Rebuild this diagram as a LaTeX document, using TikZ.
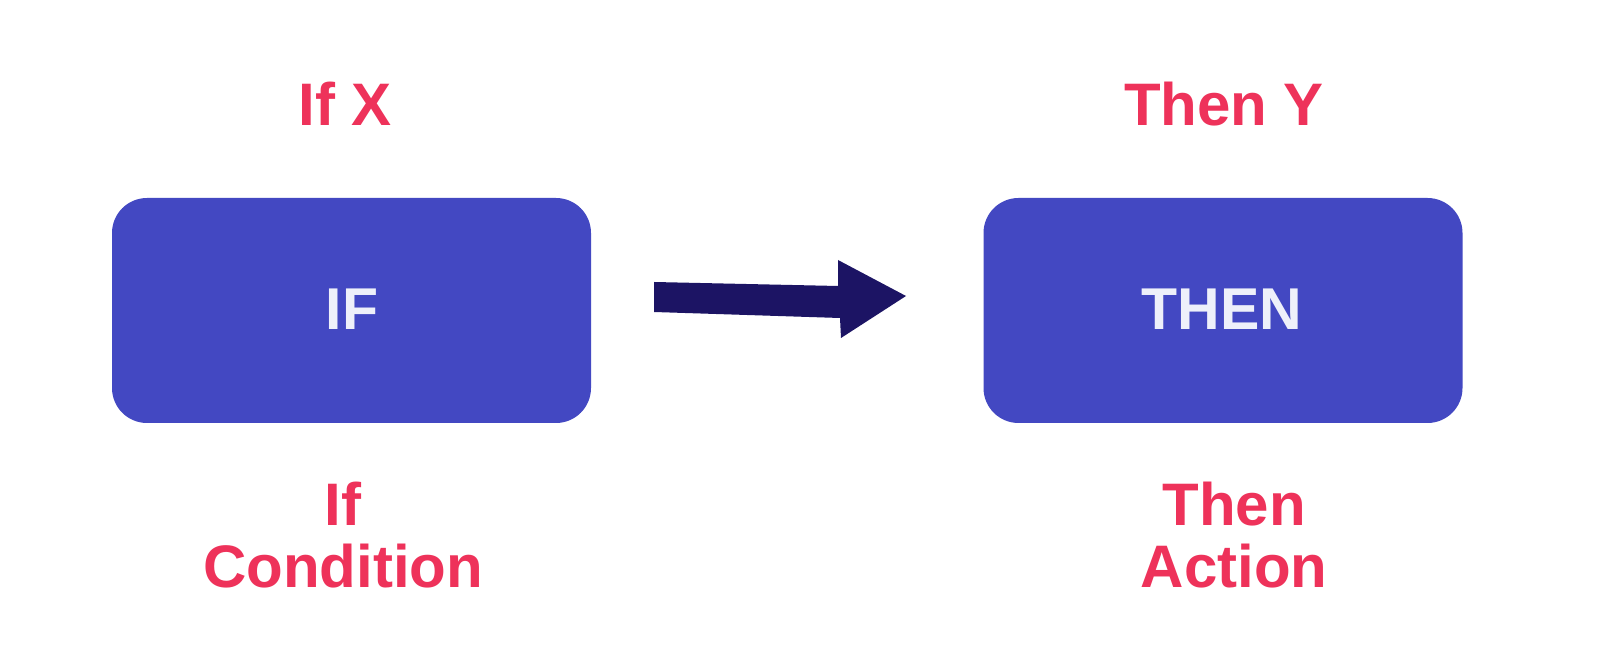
\documentclass[tikz,border=0pt]{standalone}
\usepackage{fontspec}
\setmainfont{Liberation Sans}
\definecolor{boxblue}{RGB}{67,72,194}
\definecolor{labred}{RGB}{238,50,90}
\definecolor{arrowblue}{RGB}{28,20,100}
\definecolor{boxtext}{RGB}{238,240,250}
\begin{document}
\begin{tikzpicture}[x=0.5pt,y=-0.5pt,
  blockbox/.style={rectangle,rounded corners=17.5pt,fill=boxblue,inner sep=0pt,
    minimum width=239.5pt,minimum height=112.5pt},
  boxlabel/.style={text=boxtext,inner sep=0pt,anchor=base,
    font=\fontsize{29.5pt}{31pt}\selectfont\bfseries},
  redlabel/.style={text=labred,inner sep=0pt,align=center,anchor=base,
    font=\fontsize{30pt}{31pt}\selectfont\bfseries}]
\useasboundingbox (0,0) rectangle (1600,672);
\fill[white] (0,0) rectangle (1600,672);
\node[blockbox] (ifbox) at (351.5,310.5) {};
\node[blockbox] (thenbox) at (1223,310.5) {};
\node[boxlabel] (iftext) at (352,330) {IF};
\node[boxlabel] (thentext) at (1222,330) {THEN};
\node[redlabel] (ifx) at (345,126) {If X};
\node[redlabel] (theny) at (1224,126) {Then Y};
\node[redlabel] (ifcond) at (343,588) {If\\Condition};
\node[redlabel] (thenact) at (1234,588) {Then\\Action};
\coordinate (a1) at (654,282);
\coordinate (a2) at (838,286);
\coordinate (a3) at (838,260);
\coordinate (a4) at (906,296);
\coordinate (a5) at (841,338);
\coordinate (a6) at (840,318);
\coordinate (a7) at (654,312);
\fill[arrowblue] (a1) -- (a2) -- (a3) -- (a4) -- (a5) -- (a6) -- (a7) -- cycle;
\end{tikzpicture}
\end{document}
